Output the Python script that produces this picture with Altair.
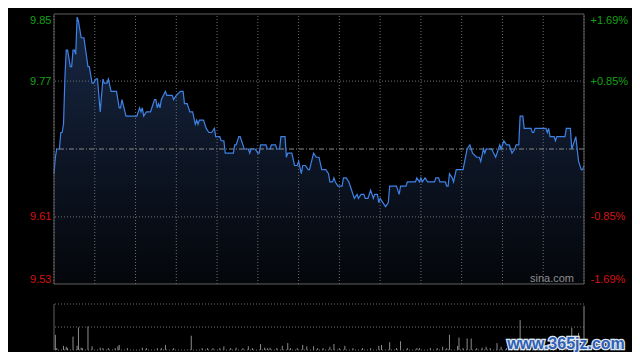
import altair as alt
import pandas as pd

# ---------------- data ----------------
prev_close = 9.69
pct_levels = [-1.69, -0.85, 0.85, 1.69]
grid_minutes = [0, 30, 60, 90, 120, 150, 180, 210, 240, 270, 300, 330, 360, 390]
vol_grid = [0, 50, 100]

minutes = [0, 1, 2, 4, 5, 6, 7, 8, 9, 10, 12, 13, 14, 15, 16, 17, 18, 20, 22, 25,
           26, 28, 29, 31, 32, 34, 36, 37, 39, 40, 42, 46, 48, 49, 50, 53, 61, 63, 64, 65,
           66, 68, 71, 72, 74, 75, 76, 77, 78, 79, 82, 83, 87, 88, 90, 93, 95, 96, 98, 100,
           102, 104, 105, 106, 107, 110, 112, 114, 116, 118, 119, 122, 123, 125, 126, 132, 133, 134, 136, 137,
           140, 143, 144, 145, 148, 150, 151, 152, 156, 157, 159, 160, 163, 164, 166, 167, 170, 171, 172, 175,
           177, 179, 180, 182, 183, 185, 187, 188, 191, 193, 195, 197, 200, 202, 203, 205, 206, 207, 209, 212,
           213, 215, 217, 219, 221, 223, 224, 226, 228, 229, 231, 233, 235, 236, 238, 239, 240, 242, 244, 246,
           247, 252, 254, 255, 259, 260, 266, 267, 269, 270, 271, 273, 275, 280, 281, 283, 284, 288, 289, 290,
           291, 293, 294, 296, 301, 304, 306, 307, 308, 311, 313, 314, 316, 317, 318, 322, 325, 328, 329, 331,
           333, 335, 336, 337, 339, 340, 342, 343, 345, 346, 351, 352, 353, 354, 362, 363, 364, 365, 368, 369,
           370, 372, 376, 377, 380, 381, 382, 384, 386, 388, 389, 390]
prices = [9.66, 9.68, 9.69, 9.69, 9.71, 9.71, 9.72, 9.775, 9.81, 9.81, 9.79, 9.79, 9.81, 9.81, 9.805, 9.85, 9.845, 9.825, 9.825, 9.79,
          9.79, 9.77, 9.77, 9.775, 9.775, 9.735, 9.775, 9.77, 9.77, 9.775, 9.76, 9.76, 9.74, 9.74, 9.75, 9.73, 9.73, 9.74, 9.735, 9.74,
          9.73, 9.735, 9.735, 9.74, 9.75, 9.75, 9.74, 9.745, 9.74, 9.75, 9.76, 9.755, 9.755, 9.75, 9.755, 9.76, 9.76, 9.745, 9.745, 9.735,
          9.735, 9.72, 9.725, 9.72, 9.725, 9.725, 9.715, 9.71, 9.71, 9.715, 9.705, 9.705, 9.70, 9.70, 9.685, 9.685, 9.695, 9.695, 9.705, 9.705,
          9.69, 9.69, 9.685, 9.69, 9.69, 9.685, 9.685, 9.695, 9.695, 9.69, 9.69, 9.695, 9.695, 9.69, 9.69, 9.705, 9.705, 9.68, 9.685, 9.685,
          9.67, 9.67, 9.675, 9.66, 9.67, 9.67, 9.665, 9.665, 9.685, 9.68, 9.68, 9.665, 9.665, 9.66, 9.65, 9.65, 9.655, 9.65, 9.645, 9.645,
          9.655, 9.655, 9.65, 9.64, 9.63, 9.635, 9.63, 9.635, 9.635, 9.63, 9.63, 9.64, 9.63, 9.635, 9.635, 9.625, 9.63, 9.625, 9.62, 9.625,
          9.645, 9.645, 9.635, 9.645, 9.645, 9.65, 9.65, 9.655, 9.65, 9.655, 9.65, 9.655, 9.65, 9.65, 9.655, 9.655, 9.65, 9.65, 9.645, 9.645,
          9.66, 9.655, 9.65, 9.665, 9.665, 9.69, 9.695, 9.69, 9.685, 9.68, 9.68, 9.675, 9.69, 9.685, 9.69, 9.69, 9.68, 9.695, 9.69, 9.70,
          9.695, 9.695, 9.69, 9.685, 9.69, 9.695, 9.695, 9.73, 9.73, 9.715, 9.715, 9.71, 9.71, 9.715, 9.715, 9.71, 9.715, 9.705, 9.705, 9.70,
          9.705, 9.705, 9.705, 9.715, 9.715, 9.69, 9.695, 9.705, 9.675, 9.665, 9.665, 9.67]

vol_minutes = [1, 2, 7, 9, 10, 14, 17, 18, 20, 21, 25, 28, 34, 36, 40, 45, 47, 48, 54, 65,
               68, 76, 79, 82, 88, 101, 109, 113, 117, 122, 125, 130, 134, 139, 143, 146, 152, 155, 157, 159,
               164, 168, 172, 174, 179, 183, 186, 191, 194, 198, 203, 206, 210, 214, 220, 227, 233, 239, 241, 247,
               252, 255, 260, 267, 269, 277, 282, 286, 289, 291, 297, 298, 301, 304, 307, 311, 315, 318, 321, 326,
               329, 333, 338, 343, 345, 348, 355, 363, 367, 372, 377, 381, 386, 390]
volumes = [33, 4, 9, 7, 4, 29, 9, 49, 5, 4, 51, 8, 5, 4, 4, 4, 8, 11, 4, 5,
           4, 4, 4, 11, 4, 31, 4, 4, 4, 4, 8, 4, 5, 4, 8, 4, 13, 5, 4, 5,
           4, 9, 15, 4, 4, 11, 8, 8, 4, 4, 7, 13, 4, 9, 4, 4, 4, 9, 11, 17,
           4, 19, 4, 4, 4, 4, 4, 7, 4, 33, 9, 27, 4, 25, 25, 4, 5, 7, 4, 15,
           7, 4, 7, 65, 7, 4, 4, 4, 9, 4, 4, 48, 37, 96]

# ---------------- derived tables ----------------
price_ticks = [round(prev_close * (1 + p / 100), 4) for p in pct_levels]
p_lo, p_hi = price_ticks[0], price_ticks[-1]
price_df = pd.DataFrame({"m": minutes, "p": prices, "base": [p_lo] * len(minutes)})
vol_df = pd.DataFrame({"m": vol_minutes, "v": volumes, "zero": [0] * len(vol_minutes)})
vgrid_df = pd.DataFrame({"m": grid_minutes, "lo": [p_lo] * len(grid_minutes),
                         "hi": [p_hi] * len(grid_minutes)})
hgrid_df = pd.DataFrame({"p": price_ticks[1:3]})
mid_df = pd.DataFrame({"p": [prev_close]})
border_df = pd.DataFrame({"x0": [grid_minutes[0]], "x1": [grid_minutes[-1]],
                          "lo": [p_lo], "hi": [p_hi]})
pct_df = pd.DataFrame({"pct": pct_levels})
volgrid_df = pd.DataFrame({"v": vol_grid})
vleft_df = pd.DataFrame({"m": [0], "a": [vol_grid[0]], "b": [vol_grid[-1]]})
text_df = pd.DataFrame({"t": ["sina.com"]})
wm_df = pd.DataFrame({"t": ["www.365jz.com"]})

GREEN = "#16a016"
RED = "#d41414"
GRID = "#6e6e6e"
BORDER = "#606060"
LINE = "#3f82e6"
FONT = "Liberation Sans"

PRICE_RANGE = [270, 0]
VOL_RANGE = [336, 290]

xs = alt.Scale(domain=[0, 390], nice=False, zero=False)
ps = alt.Scale(domain=[p_lo, p_hi], range=PRICE_RANGE, nice=False, zero=False)
pcs = alt.Scale(domain=[pct_levels[0], pct_levels[-1]], range=PRICE_RANGE, nice=False, zero=False)
vs = alt.Scale(domain=[0, 100], range=VOL_RANGE, nice=False, zero=False)

left_axis = alt.Axis(values=price_ticks, format=".2f", labelFlush=True, labelPadding=3,
                     ticks=False, domain=False, grid=False, labelFontSize=11, labelFont=FONT,
                     orient="left", title=None,
                     labelColor={"condition": {"test": f"datum.value > {prev_close}", "value": GREEN},
                                 "value": RED})
right_axis = alt.Axis(values=pct_levels, labelFlush=True, labelPadding=6,
                      labelExpr="(datum.value > 0 ? '+' : '-') + format(abs(datum.value), '.2f') + '%'",
                      ticks=False, domain=False, grid=False, labelFontSize=11, labelFont=FONT,
                      orient="right", title=None,
                      labelColor={"condition": {"test": "datum.value > 0", "value": GREEN},
                                  "value": RED})

gradient = alt.Gradient(gradient="linear",
                        stops=[alt.GradientStop(offset=0, color="#04060a"),
                               alt.GradientStop(offset=1, color="#172744")],
                        x1=1, x2=1, y1=1, y2=0)

X = alt.X("m:Q", scale=xs, axis=None)

area = alt.Chart(price_df).mark_area(color=gradient).encode(
    x=X, y=alt.Y("p:Q", scale=ps, axis=left_axis), y2="base:Q")

pct_layer = alt.Chart(pct_df).mark_point(opacity=0).encode(
    y=alt.Y("pct:Q", scale=pcs, axis=right_axis))

vgrid = alt.Chart(vgrid_df).mark_rule(color=GRID, strokeDash=[1, 2], strokeWidth=1).encode(
    x=X, y=alt.Y("lo:Q", scale=ps, axis=None), y2="hi:Q")

hgrid = alt.Chart(hgrid_df).mark_rule(color=GRID, strokeDash=[1, 2], strokeWidth=1).encode(
    y=alt.Y("p:Q", scale=ps, axis=None))

midline = alt.Chart(mid_df).mark_rule(color="#8a8a8a", strokeDash=[5, 2, 1, 2], strokeWidth=1).encode(
    y=alt.Y("p:Q", scale=ps, axis=None))

line = alt.Chart(price_df).mark_line(color=LINE, strokeWidth=1.2).encode(
    x=X, y=alt.Y("p:Q", scale=ps, axis=None))

border = alt.Chart(border_df).mark_rect(fillOpacity=0, stroke=BORDER, strokeWidth=1).encode(
    x=alt.X("x0:Q", scale=xs, axis=None), x2="x1:Q",
    y=alt.Y("lo:Q", scale=ps, axis=None), y2="hi:Q")

brand = alt.Chart(text_df).mark_text(
    color="#8e8e8e", fontSize=11, font=FONT, align="center", baseline="middle").encode(
    text="t:N", x=alt.value(498), y=alt.value(265))

volgrid = alt.Chart(volgrid_df).mark_rule(color=GRID, strokeDash=[1, 2], strokeWidth=1).encode(
    y=alt.Y("v:Q", scale=vs, axis=None))

vleft = alt.Chart(vleft_df).mark_rule(color=BORDER, strokeWidth=1).encode(
    x=X, y=alt.Y("a:Q", scale=vs, axis=None), y2="b:Q")

vbars = alt.Chart(vol_df).mark_rule(color="#8c8c8c", strokeWidth=1).encode(
    x=X, y=alt.Y("v:Q", scale=vs, axis=None), y2="zero:Q")

wm_bg = alt.Chart(wm_df).mark_text(
    color="#3563b4", stroke="#dfe7f3", strokeWidth=2.5, fontSize=16, fontWeight="bold",
    font=FONT, align="center", baseline="middle").encode(
    text="t:N", x=alt.value(512), y=alt.value(330))
wm_fg = alt.Chart(wm_df).mark_text(
    color="#2f5fb3", fontSize=16, fontWeight="bold",
    font=FONT, align="center", baseline="middle").encode(
    text="t:N", x=alt.value(512), y=alt.value(330))

chart = alt.layer(
    area, pct_layer, vgrid, hgrid, midline, line, border, brand,
    volgrid, vleft, vbars, wm_bg, wm_fg
).resolve_scale(y="independent").properties(
    width=530, height=336,
    padding={"left": 46, "top": 6, "right": 48, "bottom": 2},
    autosize=alt.AutoSizeParams(type="none"),
).configure(background="#000000", font=FONT).configure_view(strokeWidth=0)

chart.save("out.html", embed_options={"renderer": "svg", "actions": False})
